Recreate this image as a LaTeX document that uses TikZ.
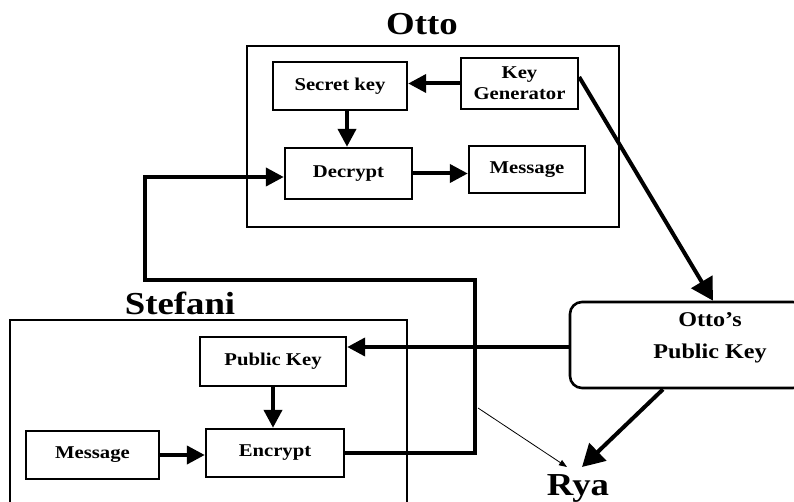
\documentclass[tikz,border=0pt]{standalone}
\usepackage{fontspec}
\setmainfont{Liberation Serif}[FakeStretch=1.15]
\usetikzlibrary{arrows.meta}
\begin{document}
\begin{tikzpicture}[x=1pt,y=-1pt,
  frame/.style={draw, line width=2.6pt, inner sep=0pt},
  box/.style={draw, line width=2.4pt, inner sep=0pt, align=center,
    font=\fontsize{18}{21}\selectfont\bfseries},
  title/.style={anchor=base, inner sep=0pt, font=\fontsize{32}{34}\selectfont\bfseries},
  arr/.style={line width=4pt, -{Triangle[length=18pt,width=18pt]}},
  bigarr/.style={line width=4pt, -{Triangle[length=22pt,width=24pt]}},
  thinarr/.style={line width=0.8pt, -{Triangle[length=8pt,width=6pt]}}]
\useasboundingbox (0,0) rectangle (794,502);
% frames
\node[frame, minimum width=372pt, minimum height=181pt] (ottobox) at (433,136.5) {};
\node[frame, minimum width=397pt, minimum height=200pt] (stefbox) at (208.5,420) {};
\node[frame, rounded corners=12pt, minimum width=235pt, minimum height=86pt] (opk) at (687.5,345) {};
% titles
\node[title] (ottolabel) at (422,35) {Otto};
\node[title] (steflabel) at (180,314) {Stefani};
\node[title] (rya) at (578,495) {Rya};
\node[align=center, inner sep=0pt, font=\fontsize{21}{32}\selectfont\bfseries] (opktext) at (710,338) {Otto's\\Public Key};
% Otto's boxes
\node[box, minimum width=134pt, minimum height=48pt] (secret) at (340,86) {Secret key};
\node[box, minimum width=117pt, minimum height=51pt] (keygen) at (519.5,83.5) {Key\\Generator};
\node[box, minimum width=127pt, minimum height=51pt] (decrypt) at (348.5,173.5) {Decrypt};
\node[box, minimum width=116pt, minimum height=47pt] (omsg) at (527,169.5) {Message};
% Stefani's boxes
\node[box, minimum width=146pt, minimum height=49pt] (pubkey) at (273,361.5) {Public Key};
\node[box, minimum width=138pt, minimum height=48pt] (encrypt) at (275,453) {Encrypt};
\node[box, minimum width=133pt, minimum height=48pt] (smsg) at (92.5,455) {Message};
% route coordinates
\coordinate (c1) at (475,280);
\coordinate (c2) at (145,280);
\coordinate (c3) at (478,408);
% connectors
\draw[arr] (keygen.west) -- (keygen.west -| secret.east);
\draw[arr] ([xshift=7pt]secret.south) -- ([xshift=7pt]secret.south |- decrypt.north);
\draw[arr] (decrypt.east) -- (decrypt.east -| omsg.west);
\draw[arr] (encrypt.east) -| (c1) -- (c2) |- ([yshift=-3.5pt]decrypt.west);
\draw[arr] (smsg.east) -- (smsg.east -| encrypt.west);
\draw[arr] (pubkey.south) -- (pubkey.south |- encrypt.north);
\draw[arr] ([yshift=-2pt]opk.west) -- ([yshift=-2pt]opk.west -| pubkey.east);
\draw[bigarr] ([yshift=6.5pt]keygen.east) -- ([xshift=25.5pt]opk.north);
\draw[bigarr] ([xshift=-24.5pt]opk.south) -- ([shift={(4,-28)}]rya.base);
\draw[thinarr] (c3) -- ([shift={(-11,-28)}]rya.base);
\end{tikzpicture}
\end{document}
